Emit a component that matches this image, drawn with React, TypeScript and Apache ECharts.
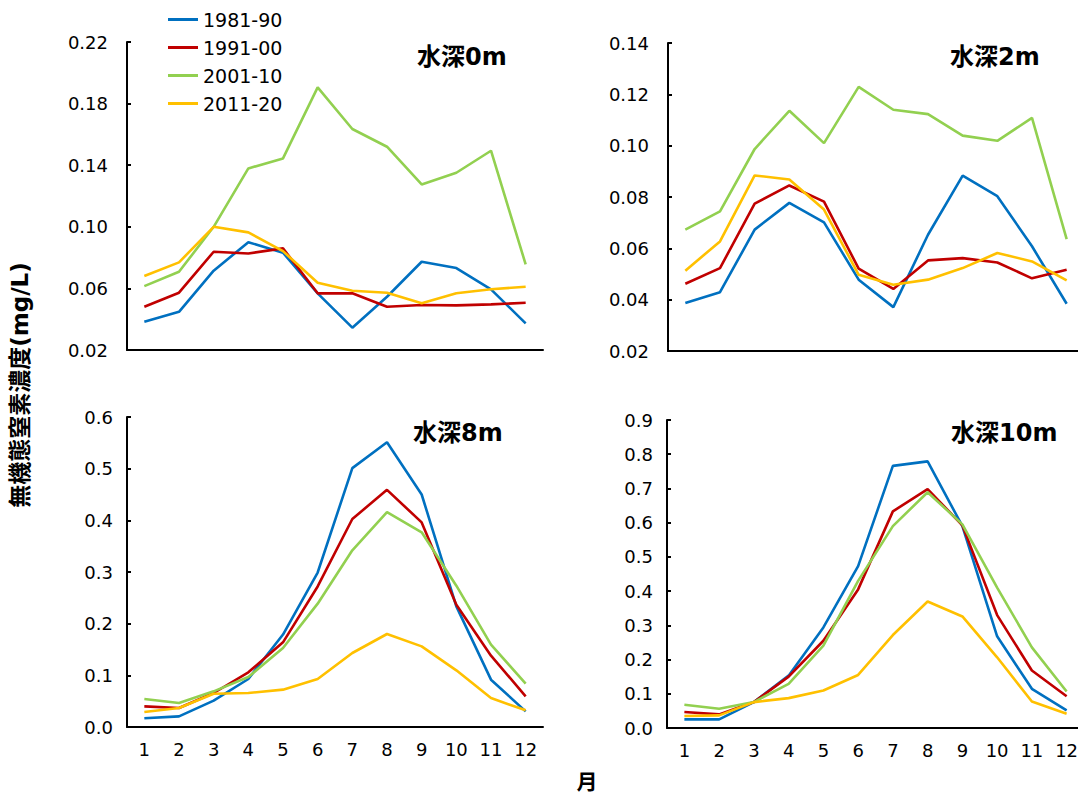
import React, { useEffect, useRef } from "react";
import * as echarts from "echarts";

const months = ["1", "2", "3", "4", "5", "6", "7", "8", "9", "10", "11", "12"];
const seriesNames = ["1981-90", "1991-00", "2001-10", "2011-20"];
const colors = ["#0070C0", "#C00000", "#92D050", "#FFC000"];

// 水深0m
const d0_1981 = [0.0384, 0.0448, 0.0715, 0.090, 0.0832, 0.0568, 0.0345, 0.0546, 0.0773, 0.0732, 0.0594, 0.0373];
const d0_1991 = [0.0481, 0.0572, 0.0838, 0.0827, 0.086, 0.0568, 0.0568, 0.0481, 0.0492, 0.049, 0.0496, 0.0507];
const d0_2001 = [0.0615, 0.0708, 0.100, 0.1379, 0.1444, 0.1905, 0.1635, 0.152, 0.1275, 0.1351, 0.1494, 0.0756];
const d0_2011 = [0.068, 0.0769, 0.100, 0.0964, 0.0842, 0.0637, 0.0585, 0.0572, 0.0503, 0.0568, 0.0594, 0.0611];

// 水深2m
const d2_1981 = [0.0387, 0.0429, 0.0673, 0.0777, 0.0701, 0.0478, 0.0371, 0.0653, 0.0883, 0.0803, 0.0608, 0.0384];
const d2_1991 = [0.0462, 0.0523, 0.0774, 0.0845, 0.0782, 0.0521, 0.0442, 0.0553, 0.0562, 0.0545, 0.0483, 0.0517];
const d2_2001 = [0.0673, 0.0744, 0.0987, 0.1136, 0.101, 0.1229, 0.114, 0.1123, 0.1039, 0.1019, 0.1108, 0.0636];
const d2_2011 = [0.0513, 0.0627, 0.0884, 0.0868, 0.0751, 0.0497, 0.0458, 0.0478, 0.0523, 0.0582, 0.0549, 0.0475];

// 水深8m
const d8_1981 = [0.0168, 0.0206, 0.051, 0.0929, 0.179, 0.299, 0.501, 0.551, 0.45, 0.2335, 0.0916, 0.0303];
const d8_1991 = [0.04, 0.0368, 0.0658, 0.1058, 0.1639, 0.272, 0.4026, 0.459, 0.396, 0.2368, 0.138, 0.0594];
const d8_2001 = [0.0542, 0.0465, 0.069, 0.0968, 0.1529, 0.2387, 0.342, 0.416, 0.3768, 0.2735, 0.1594, 0.0839];
const d8_2011 = [0.029, 0.0368, 0.0645, 0.0658, 0.0723, 0.0929, 0.1432, 0.18, 0.156, 0.1097, 0.0561, 0.0323];

// 水深10m
const d10_1981 = [0.0252, 0.0252, 0.0757, 0.153, 0.294, 0.473, 0.766, 0.779, 0.59, 0.268, 0.1145, 0.0514];
const d10_1991 = [0.0466, 0.0398, 0.0757, 0.15, 0.255, 0.405, 0.633, 0.698, 0.592, 0.33, 0.168, 0.093];
const d10_2001 = [0.0679, 0.0563, 0.0757, 0.129, 0.2405, 0.43, 0.59, 0.689, 0.595, 0.41, 0.2357, 0.1067];
const d10_2011 = [0.035, 0.0369, 0.0757, 0.0873, 0.1096, 0.155, 0.2716, 0.3695, 0.326, 0.2066, 0.0776, 0.0417];

const panelTitles = ["水深0m", "水深2m", "水深8m", "水深10m"];
const ticks0 = [0.02, 0.06, 0.1, 0.14, 0.18, 0.22];
const ticks2 = [0.02, 0.04, 0.06, 0.08, 0.1, 0.12, 0.14];
const ticks8 = [0, 0.1, 0.2, 0.3, 0.4, 0.5, 0.6];
const ticks10 = [0, 0.1, 0.2, 0.3, 0.4, 0.5, 0.6, 0.7, 0.8, 0.9];
const yAxisTitle = "無機態窒素濃度(mg/L)";
const xAxisTitle = "月";

const FONT = "'DejaVu Sans', 'Noto Sans CJK JP', sans-serif";

export default function App() {
  const ref = useRef<HTMLDivElement>(null);
  useEffect(() => {
    if (!ref.current) return;
    const chart = echarts.init(ref.current, null, { renderer: "svg" });
    const panels = [
      { data: [d0_1981, d0_1991, d0_2001, d0_2011], ticks: ticks0, dec: 2, showX: false },
      { data: [d2_1981, d2_1991, d2_2001, d2_2011], ticks: ticks2, dec: 2, showX: false },
      { data: [d8_1981, d8_1991, d8_2001, d8_2011], ticks: ticks8, dec: 1, showX: true },
      { data: [d10_1981, d10_1991, d10_2001, d10_2011], ticks: ticks10, dec: 1, showX: true },
    ];
    const grids = [
      { left: 127, top: 42, width: 416, height: 308 },
      { left: 668, top: 43, width: 416, height: 308 },
      { left: 127, top: 417, width: 416, height: 310 },
      { left: 667, top: 420, width: 417, height: 308 },
    ];
    const titlePos = [
      [417, 57],
      [950, 57],
      [413, 433],
      [951, 433],
    ];
    const xAxes = panels.map((p, i) => ({
      type: "category",
      gridIndex: i,
      data: months,
      boundaryGap: true,
      axisLine: { lineStyle: { color: "#000", width: 2 } },
      axisTick: { show: false },
      axisLabel: {
        show: p.showX,
        color: "#000",
        fontSize: 18,
        fontFamily: FONT,
        margin: 13,
      },
    }));
    const yAxes = panels.map((p, i) => ({
      type: "value",
      gridIndex: i,
      min: p.ticks[0],
      max: p.ticks[p.ticks.length - 1],
      splitLine: { show: false },
      axisLine: { show: true, lineStyle: { color: "#000", width: 2 } },
      axisTick: {
        show: true,
        inside: true,
        length: 4,
        lineStyle: { color: "#000", width: 2 },
        customValues: p.ticks,
      },
      axisLabel: {
        color: "#000",
        fontSize: 18,
        fontFamily: FONT,
        margin: i < 2 ? 19 : 14,
        customValues: p.ticks,
        formatter: (v: number) => v.toFixed(p.dec),
      },
    }));
    const series: any[] = [];
    panels.forEach((p, i) => {
      p.data.forEach((arr, k) => {
        series.push({
          name: seriesNames[k],
          type: "line",
          xAxisIndex: i,
          yAxisIndex: i,
          data: arr,
          symbol: "none",
          lineStyle: { color: colors[k], width: 2.6 },
          itemStyle: { color: colors[k] },
        });
      });
    });
    const graphics: any[] = panelTitles.map((t, i) => ({
      type: "text",
      x: titlePos[i][0],
      y: titlePos[i][1],
      style: {
        text: t,
        fill: "#000",
        font: `bold 24px ${FONT}`,
        textAlign: "left",
        textVerticalAlign: "middle",
      },
    }));
    graphics.push({
      type: "text",
      x: 20,
      y: 385,
      rotation: Math.PI / 2,
      style: {
        text: yAxisTitle,
        fill: "#000",
        font: `bold 23px ${FONT}`,
        textAlign: "center",
        textVerticalAlign: "middle",
      },
    });
    graphics.push({
      type: "text",
      x: 587,
      y: 782,
      style: {
        text: xAxisTitle,
        fill: "#000",
        font: `bold 21px ${FONT}`,
        textAlign: "center",
        textVerticalAlign: "middle",
      },
    });
    chart.setOption({
      animation: false,
      backgroundColor: "#fff",
      grid: grids,
      xAxis: xAxes,
      yAxis: yAxes,
      legend: {
        orient: "vertical",
        left: 163,
        top: 5,
        icon: "rect",
        itemWidth: 30,
        itemHeight: 3,
        itemGap: 9,
        data: seriesNames,
        textStyle: { color: "#000", fontSize: 19, fontFamily: FONT },
      },
      series,
      graphic: graphics,
    });
    return () => chart.dispose();
  }, []);
  return (
    <div
      ref={ref}
      style={{ position: "fixed", left: 0, top: 0, width: 1090, height: 794 }}
    />
  );
}
